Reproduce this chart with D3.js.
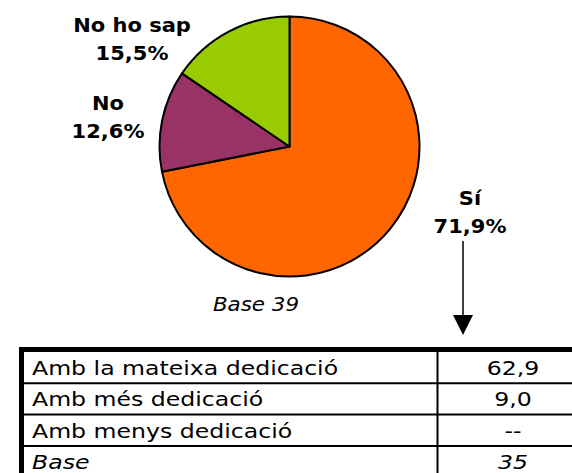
<!DOCTYPE html>
<html>
<head>
<meta charset="utf-8">
<script src="https://cdn.jsdelivr.net/npm/d3@7"></script>
<style>
  body { margin: 0; background: #fff; }
  text { font-family: "DejaVu Sans", Verdana, sans-serif; }
</style>
</head>
<body>
<svg id="chart" width="572" height="473"></svg>
<script>
// pie data
var answers = ["Sí", "No", "No ho sap"];
var shares = [71.9, 12.6, 15.5];
var sliceColors = ["#FF6600", "#993366", "#99CC00"];

// table under the arrow
var rowLabels = ["Amb la mateixa dedicació", "Amb més dedicació", "Amb menys dedicació", "Base"];
var rowValues = ["62,9", "9,0", "--", "35"];
var pieBase = "Base 39";

var svg = d3.select('#chart');
var cx = 289.5, cy = 146.5, r = 130;
var fmt = function(v){ return d3.format(".1f")(v).replace(".", ",") + "%"; };

var pie = d3.pie().sort(null).value(function(d){ return d; });
var arc = d3.arc().innerRadius(0).outerRadius(r);

svg.append('g')
  .attr('transform', 'translate(' + cx + ',' + cy + ')')
  .selectAll('path')
  .data(pie(shares))
  .enter()
  .append('path')
  .attr('d', arc)
  .attr('fill', function(d, i){ return sliceColors[i]; })
  .attr('stroke', '#000')
  .attr('stroke-width', 2)
  .attr('stroke-linejoin', 'round');

// label spots (center x, first baseline) - placed by hand like the original
var labelSpots = [[470, 205], [108, 110], [132, 32]];

var scaledText = function(g, x, y, sx, str){
  return g.append('text')
    .attr('transform', 'translate(' + x + ',' + y + ') scale(' + sx + ',1)')
    .text(str);
};

var labels = svg.append('g')
  .attr('font-size', '20px')
  .attr('font-weight', 'bold')
  .attr('text-anchor', 'middle')
  .attr('fill', '#000');
answers.forEach(function(a, i){
  scaledText(labels, labelSpots[i][0], labelSpots[i][1], 1.05, a);
  scaledText(labels, labelSpots[i][0], labelSpots[i][1] + 28, 1.05, fmt(shares[i]));
});

scaledText(svg, 256, 311, 1.07, pieBase)
  .attr('font-size', '20px')
  .attr('font-style', 'italic')
  .attr('text-anchor', 'middle');

// arrow from Sí down to table
svg.append('line')
  .attr('x1', 463).attr('x2', 463)
  .attr('y1', 241).attr('y2', 316)
  .attr('stroke', '#000').attr('stroke-width', 1.5);
svg.append('path')
  .attr('d', 'M453,315 L473,315 L463,335 Z')
  .attr('fill', '#000');

// table
var tTop = 352, rowH = 31.3;
var y = d3.scaleLinear().domain([0, 1]).range([tTop, tTop + rowH]);
var tbl = svg.append('g');

tbl.selectAll('.rowline')
  .data(d3.range(1, rowLabels.length))
  .enter()
  .append('line')
  .attr('class', 'rowline')
  .attr('x1', 24).attr('x2', 572)
  .attr('y1', function(d){ return y(d); })
  .attr('y2', function(d){ return y(d); })
  .attr('stroke', '#000').attr('stroke-width', 2);

tbl.append('line')
  .attr('x1', 437.5).attr('x2', 437.5)
  .attr('y1', tTop).attr('y2', 473)
  .attr('stroke', '#000').attr('stroke-width', 2);

tbl.append('line')
  .attr('x1', 19).attr('x2', 572)
  .attr('y1', 349.5).attr('y2', 349.5)
  .attr('stroke', '#000').attr('stroke-width', 5);
tbl.append('line')
  .attr('x1', 21.5).attr('x2', 21.5)
  .attr('y1', 347).attr('y2', 473)
  .attr('stroke', '#000').attr('stroke-width', 5);

rowLabels.forEach(function(lab, i){
  var last = i === rowLabels.length - 1;
  scaledText(tbl, 32, y(i) + 23, 1.18, lab)
    .attr('font-size', '20px')
    .attr('font-style', last ? 'italic' : 'normal');
  scaledText(tbl, 513, y(i) + 23, 1.18, rowValues[i])
    .attr('font-size', '20px')
    .attr('text-anchor', 'middle')
    .attr('font-style', last ? 'italic' : 'normal');
});
</script>
</body>
</html>
